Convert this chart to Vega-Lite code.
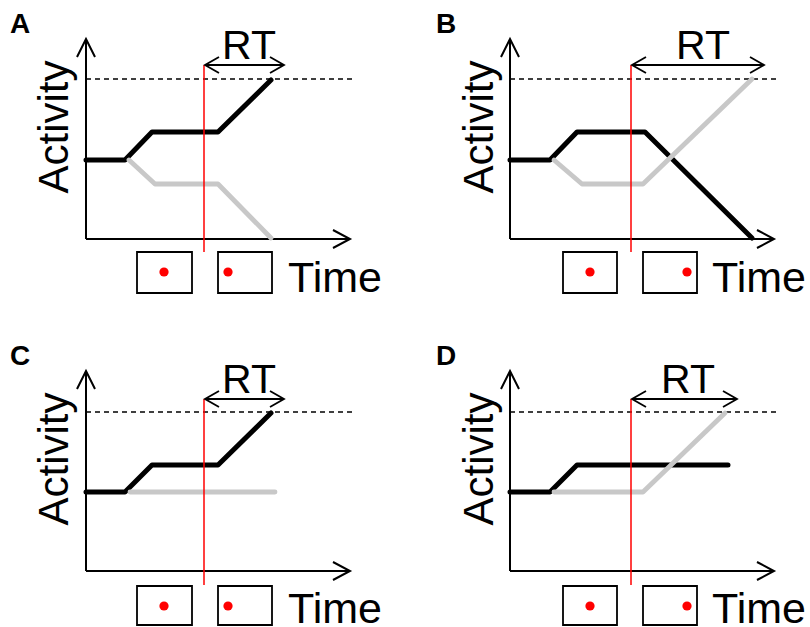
{
  "$schema": "https://vega.github.io/schema/vega-lite/v6.json",
  "padding": 0,
  "bounds": "flush",
  "background": "white",
  "config": {"view": {"stroke": null}, "font": "Liberation Sans"},
  "data": {"values": [
    {"p":"A","k":"axis","g":"yA","o":0,"t":0,"a":0},{"p":"A","k":"axis","g":"yA","o":1,"t":0,"a":200},
    {"p":"A","k":"axis","g":"yaA","o":0,"t":-9,"a":182},{"p":"A","k":"axis","g":"yaA","o":1,"t":0,"a":200},{"p":"A","k":"axis","g":"yaA","o":2,"t":9,"a":182},
    {"p":"A","k":"axis","g":"xA","o":0,"t":0,"a":0},{"p":"A","k":"axis","g":"xA","o":1,"t":264,"a":0},
    {"p":"A","k":"axis","g":"xaA","o":0,"t":247,"a":9},{"p":"A","k":"axis","g":"xaA","o":1,"t":264,"a":0},{"p":"A","k":"axis","g":"xaA","o":2,"t":247,"a":-9},
    {"p":"A","k":"rt","g":"rA","o":0,"t":119,"a":174},{"p":"A","k":"rt","g":"rA","o":1,"t":198,"a":174},
    {"p":"A","k":"rt","g":"rlA","o":0,"t":133,"a":182},{"p":"A","k":"rt","g":"rlA","o":1,"t":119,"a":174},{"p":"A","k":"rt","g":"rlA","o":2,"t":133,"a":166},
    {"p":"A","k":"rt","g":"rrA","o":0,"t":184,"a":182},{"p":"A","k":"rt","g":"rrA","o":1,"t":198,"a":174},{"p":"A","k":"rt","g":"rrA","o":2,"t":184,"a":166},
    {"p":"A","k":"black","g":"bA","o":0,"t":0,"a":79},{"p":"A","k":"black","g":"bA","o":1,"t":39,"a":79},{"p":"A","k":"black","g":"bA","o":2,"t":66,"a":107},{"p":"A","k":"black","g":"bA","o":3,"t":132,"a":107},{"p":"A","k":"black","g":"bA","o":4,"t":185,"a":159},
    {"p":"A","k":"gray","g":"gA","o":0,"t":43,"a":79},{"p":"A","k":"gray","g":"gA","o":1,"t":69,"a":55},{"p":"A","k":"gray","g":"gA","o":2,"t":132,"a":55},{"p":"A","k":"gray","g":"gA","o":3,"t":185,"a":1},
    {"p":"A","k":"th","t":0,"t2":266,"a":160},
    {"p":"A","k":"red","t":118,"a":-13,"a2":174},
    {"p":"A","k":"box","t":51,"t2":106,"a":-13,"a2":-54},{"p":"A","k":"box","t":132,"t2":186,"a":-13,"a2":-54},
    {"p":"A","k":"dot","t":78,"a":-33},{"p":"A","k":"dot","t":142,"a":-33},
    {"p":"A","k":"rtlabel","txt":"RT","t":163,"a":180},
    {"p":"A","k":"time","txt":"Time","t":202,"a":-53},
    {"p":"A","k":"act","txt":"Activity","t":-18,"a":112},
    {"p":"A","k":"lab","txt":"A","t":-76,"a":206},

    {"p":"B","k":"axis","g":"yB","o":0,"t":0,"a":0},{"p":"B","k":"axis","g":"yB","o":1,"t":0,"a":200},
    {"p":"B","k":"axis","g":"yaB","o":0,"t":-9,"a":182},{"p":"B","k":"axis","g":"yaB","o":1,"t":0,"a":200},{"p":"B","k":"axis","g":"yaB","o":2,"t":9,"a":182},
    {"p":"B","k":"axis","g":"xB","o":0,"t":0,"a":0},{"p":"B","k":"axis","g":"xB","o":1,"t":264,"a":0},
    {"p":"B","k":"axis","g":"xaB","o":0,"t":247,"a":9},{"p":"B","k":"axis","g":"xaB","o":1,"t":264,"a":0},{"p":"B","k":"axis","g":"xaB","o":2,"t":247,"a":-9},
    {"p":"B","k":"rt","g":"rB","o":0,"t":122,"a":174},{"p":"B","k":"rt","g":"rB","o":1,"t":254,"a":174},
    {"p":"B","k":"rt","g":"rlB","o":0,"t":136,"a":182},{"p":"B","k":"rt","g":"rlB","o":1,"t":122,"a":174},{"p":"B","k":"rt","g":"rlB","o":2,"t":136,"a":166},
    {"p":"B","k":"rt","g":"rrB","o":0,"t":240,"a":182},{"p":"B","k":"rt","g":"rrB","o":1,"t":254,"a":174},{"p":"B","k":"rt","g":"rrB","o":2,"t":240,"a":166},
    {"p":"B","k":"black","g":"bB","o":0,"t":0,"a":79},{"p":"B","k":"black","g":"bB","o":1,"t":40,"a":79},{"p":"B","k":"black","g":"bB","o":2,"t":67,"a":107},{"p":"B","k":"black","g":"bB","o":3,"t":135,"a":107},{"p":"B","k":"black","g":"bB","o":4,"t":242,"a":1},
    {"p":"B","k":"gray","g":"gB","o":0,"t":44,"a":79},{"p":"B","k":"gray","g":"gB","o":1,"t":72,"a":55},{"p":"B","k":"gray","g":"gB","o":2,"t":133,"a":55},{"p":"B","k":"gray","g":"gB","o":3,"t":242,"a":160},
    {"p":"B","k":"th","t":0,"t2":267,"a":160},
    {"p":"B","k":"red","t":121,"a":-13,"a2":174},
    {"p":"B","k":"box","t":53,"t2":107,"a":-13,"a2":-54},{"p":"B","k":"box","t":133,"t2":187,"a":-13,"a2":-54},
    {"p":"B","k":"dot","t":80,"a":-33},{"p":"B","k":"dot","t":177,"a":-33},
    {"p":"B","k":"rtlabel","txt":"RT","t":193,"a":180},
    {"p":"B","k":"time","txt":"Time","t":202,"a":-53},
    {"p":"B","k":"act","txt":"Activity","t":-17,"a":112},
    {"p":"B","k":"lab","txt":"B","t":-74,"a":206},

    {"p":"C","k":"axis","g":"yC","o":0,"t":0,"a":0},{"p":"C","k":"axis","g":"yC","o":1,"t":0,"a":200},
    {"p":"C","k":"axis","g":"yaC","o":0,"t":-9,"a":182},{"p":"C","k":"axis","g":"yaC","o":1,"t":0,"a":200},{"p":"C","k":"axis","g":"yaC","o":2,"t":9,"a":182},
    {"p":"C","k":"axis","g":"xC","o":0,"t":0,"a":0},{"p":"C","k":"axis","g":"xC","o":1,"t":264,"a":0},
    {"p":"C","k":"axis","g":"xaC","o":0,"t":247,"a":9},{"p":"C","k":"axis","g":"xaC","o":1,"t":264,"a":0},{"p":"C","k":"axis","g":"xaC","o":2,"t":247,"a":-9},
    {"p":"C","k":"rt","g":"rC","o":0,"t":119,"a":172},{"p":"C","k":"rt","g":"rC","o":1,"t":198,"a":172},
    {"p":"C","k":"rt","g":"rlC","o":0,"t":133,"a":180},{"p":"C","k":"rt","g":"rlC","o":1,"t":119,"a":172},{"p":"C","k":"rt","g":"rlC","o":2,"t":133,"a":164},
    {"p":"C","k":"rt","g":"rrC","o":0,"t":184,"a":180},{"p":"C","k":"rt","g":"rrC","o":1,"t":198,"a":172},{"p":"C","k":"rt","g":"rrC","o":2,"t":184,"a":164},
    {"p":"C","k":"black","g":"bC","o":0,"t":0,"a":79},{"p":"C","k":"black","g":"bC","o":1,"t":39,"a":79},{"p":"C","k":"black","g":"bC","o":2,"t":66,"a":106},{"p":"C","k":"black","g":"bC","o":3,"t":132,"a":106},{"p":"C","k":"black","g":"bC","o":4,"t":185,"a":158},
    {"p":"C","k":"gray","g":"gC","o":0,"t":44,"a":79},{"p":"C","k":"gray","g":"gC","o":1,"t":189,"a":79},
    {"p":"C","k":"th","t":0,"t2":266,"a":159},
    {"p":"C","k":"red","t":118,"a":-14,"a2":172},
    {"p":"C","k":"box","t":51,"t2":106,"a":-15,"a2":-54},{"p":"C","k":"box","t":132,"t2":186,"a":-15,"a2":-54},
    {"p":"C","k":"dot","t":78,"a":-35},{"p":"C","k":"dot","t":142,"a":-35},
    {"p":"C","k":"rtlabel","txt":"RT","t":163,"a":178},
    {"p":"C","k":"time","txt":"Time","t":202,"a":-52},
    {"p":"C","k":"act","txt":"Activity","t":-18,"a":112},
    {"p":"C","k":"lab","txt":"C","t":-76,"a":206},

    {"p":"D","k":"axis","g":"yD","o":0,"t":0,"a":0},{"p":"D","k":"axis","g":"yD","o":1,"t":0,"a":200},
    {"p":"D","k":"axis","g":"yaD","o":0,"t":-9,"a":182},{"p":"D","k":"axis","g":"yaD","o":1,"t":0,"a":200},{"p":"D","k":"axis","g":"yaD","o":2,"t":9,"a":182},
    {"p":"D","k":"axis","g":"xD","o":0,"t":0,"a":0},{"p":"D","k":"axis","g":"xD","o":1,"t":264,"a":0},
    {"p":"D","k":"axis","g":"xaD","o":0,"t":247,"a":9},{"p":"D","k":"axis","g":"xaD","o":1,"t":264,"a":0},{"p":"D","k":"axis","g":"xaD","o":2,"t":247,"a":-9},
    {"p":"D","k":"rt","g":"rD","o":0,"t":122,"a":172},{"p":"D","k":"rt","g":"rD","o":1,"t":227,"a":172},
    {"p":"D","k":"rt","g":"rlD","o":0,"t":136,"a":180},{"p":"D","k":"rt","g":"rlD","o":1,"t":122,"a":172},{"p":"D","k":"rt","g":"rlD","o":2,"t":136,"a":164},
    {"p":"D","k":"rt","g":"rrD","o":0,"t":213,"a":180},{"p":"D","k":"rt","g":"rrD","o":1,"t":227,"a":172},{"p":"D","k":"rt","g":"rrD","o":2,"t":213,"a":164},
    {"p":"D","k":"black","g":"bD","o":0,"t":0,"a":79},{"p":"D","k":"black","g":"bD","o":1,"t":40,"a":79},{"p":"D","k":"black","g":"bD","o":2,"t":67,"a":106},{"p":"D","k":"black","g":"bD","o":3,"t":218,"a":106},
    {"p":"D","k":"gray","g":"gD","o":0,"t":44,"a":79},{"p":"D","k":"gray","g":"gD","o":1,"t":133,"a":79},{"p":"D","k":"gray","g":"gD","o":2,"t":215,"a":158},
    {"p":"D","k":"th","t":0,"t2":267,"a":159},
    {"p":"D","k":"red","t":121,"a":-14,"a2":172},
    {"p":"D","k":"box","t":53,"t2":107,"a":-15,"a2":-54},{"p":"D","k":"box","t":133,"t2":187,"a":-15,"a2":-54},
    {"p":"D","k":"dot","t":80,"a":-35},{"p":"D","k":"dot","t":177,"a":-35},
    {"p":"D","k":"rtlabel","txt":"RT","t":178,"a":178},
    {"p":"D","k":"time","txt":"Time","t":202,"a":-52},
    {"p":"D","k":"act","txt":"Activity","t":-17,"a":112},
    {"p":"D","k":"lab","txt":"D","t":-74,"a":206}
  ]},
  "columns": 2,
  "spacing": {"row": 37, "column": 44},
  "concat": [
      {"width": 380, "height": 295, "transform": [{"filter": "datum.p === 'A'"}],
       "encoding": {"x": {"field": "t", "type": "quantitative", "scale": {"domain": [-86, 294], "nice": false, "zero": false}, "axis": null}, "y": {"field": "a", "type": "quantitative", "scale": {"domain": [-56, 239], "nice": false, "zero": false}, "axis": null}},
       "layer": [
        {"transform": [{"filter": "datum.k === 'th'"}], "mark": {"type": "rule", "color": "black", "strokeWidth": 1.3, "strokeDash": [5, 4]}, "encoding": {"x2": {"field": "t2"}}},
        {"transform": [{"filter": "datum.k === 'axis'"}], "mark": {"type": "line", "color": "black", "strokeWidth": 2}, "encoding": {"detail": {"field": "g", "type": "nominal"}, "order": {"field": "o", "type": "quantitative"}}},
        {"transform": [{"filter": "datum.k === 'black'"}], "mark": {"type": "line", "color": "black", "strokeWidth": 5, "strokeCap": "round", "strokeJoin": "round"}, "encoding": {"detail": {"field": "g", "type": "nominal"}, "order": {"field": "o", "type": "quantitative"}}},
        {"transform": [{"filter": "datum.k === 'gray'"}], "mark": {"type": "line", "color": "#c8c8c8", "strokeWidth": 4.8, "strokeCap": "round", "strokeJoin": "round"}, "encoding": {"detail": {"field": "g", "type": "nominal"}, "order": {"field": "o", "type": "quantitative"}}},
        {"transform": [{"filter": "datum.k === 'red'"}], "mark": {"type": "rule", "color": "#ff0000", "strokeWidth": 1.5}, "encoding": {"y2": {"field": "a2"}}},
        {"transform": [{"filter": "datum.k === 'rt'"}], "mark": {"type": "line", "color": "black", "strokeWidth": 1.8}, "encoding": {"detail": {"field": "g", "type": "nominal"}, "order": {"field": "o", "type": "quantitative"}}},
        {"transform": [{"filter": "datum.k === 'box'"}], "mark": {"type": "rect", "fill": "white", "stroke": "black", "strokeWidth": 1.8}, "encoding": {"x2": {"field": "t2"}, "y2": {"field": "a2"}}},
        {"transform": [{"filter": "datum.k === 'dot'"}], "mark": {"type": "circle", "color": "#ff0000", "size": 85, "opacity": 1}},
        {"transform": [{"filter": "datum.k === 'rtlabel'"}], "mark": {"type": "text", "font": "Liberation Sans", "fontSize": 41, "align": "center", "baseline": "alphabetic", "color": "black"}, "encoding": {"text": {"field": "txt"}}},
        {"transform": [{"filter": "datum.k === 'time'"}], "mark": {"type": "text", "font": "Liberation Sans", "fontSize": 43, "align": "left", "baseline": "alphabetic", "color": "black"}, "encoding": {"text": {"field": "txt"}}},
        {"transform": [{"filter": "datum.k === 'act'"}], "mark": {"type": "text", "font": "Liberation Sans", "fontSize": 42, "align": "center", "baseline": "alphabetic", "angle": 270, "color": "black"}, "encoding": {"text": {"field": "txt"}}},
        {"transform": [{"filter": "datum.k === 'lab'"}], "mark": {"type": "text", "font": "Liberation Sans", "fontSize": 28, "fontWeight": "bold", "align": "left", "baseline": "alphabetic", "color": "black"}, "encoding": {"text": {"field": "txt"}}}
       ]},
      {"width": 380, "height": 295, "transform": [{"filter": "datum.p === 'B'"}],
       "encoding": {"x": {"field": "t", "type": "quantitative", "scale": {"domain": [-86, 294], "nice": false, "zero": false}, "axis": null}, "y": {"field": "a", "type": "quantitative", "scale": {"domain": [-56, 239], "nice": false, "zero": false}, "axis": null}},
       "layer": [
        {"transform": [{"filter": "datum.k === 'th'"}], "mark": {"type": "rule", "color": "black", "strokeWidth": 1.3, "strokeDash": [5, 4]}, "encoding": {"x2": {"field": "t2"}}},
        {"transform": [{"filter": "datum.k === 'axis'"}], "mark": {"type": "line", "color": "black", "strokeWidth": 2}, "encoding": {"detail": {"field": "g", "type": "nominal"}, "order": {"field": "o", "type": "quantitative"}}},
        {"transform": [{"filter": "datum.k === 'black'"}], "mark": {"type": "line", "color": "black", "strokeWidth": 5, "strokeCap": "round", "strokeJoin": "round"}, "encoding": {"detail": {"field": "g", "type": "nominal"}, "order": {"field": "o", "type": "quantitative"}}},
        {"transform": [{"filter": "datum.k === 'gray'"}], "mark": {"type": "line", "color": "#c8c8c8", "strokeWidth": 4.8, "strokeCap": "round", "strokeJoin": "round"}, "encoding": {"detail": {"field": "g", "type": "nominal"}, "order": {"field": "o", "type": "quantitative"}}},
        {"transform": [{"filter": "datum.k === 'red'"}], "mark": {"type": "rule", "color": "#ff0000", "strokeWidth": 1.5}, "encoding": {"y2": {"field": "a2"}}},
        {"transform": [{"filter": "datum.k === 'rt'"}], "mark": {"type": "line", "color": "black", "strokeWidth": 1.8}, "encoding": {"detail": {"field": "g", "type": "nominal"}, "order": {"field": "o", "type": "quantitative"}}},
        {"transform": [{"filter": "datum.k === 'box'"}], "mark": {"type": "rect", "fill": "white", "stroke": "black", "strokeWidth": 1.8}, "encoding": {"x2": {"field": "t2"}, "y2": {"field": "a2"}}},
        {"transform": [{"filter": "datum.k === 'dot'"}], "mark": {"type": "circle", "color": "#ff0000", "size": 85, "opacity": 1}},
        {"transform": [{"filter": "datum.k === 'rtlabel'"}], "mark": {"type": "text", "font": "Liberation Sans", "fontSize": 41, "align": "center", "baseline": "alphabetic", "color": "black"}, "encoding": {"text": {"field": "txt"}}},
        {"transform": [{"filter": "datum.k === 'time'"}], "mark": {"type": "text", "font": "Liberation Sans", "fontSize": 43, "align": "left", "baseline": "alphabetic", "color": "black"}, "encoding": {"text": {"field": "txt"}}},
        {"transform": [{"filter": "datum.k === 'act'"}], "mark": {"type": "text", "font": "Liberation Sans", "fontSize": 42, "align": "center", "baseline": "alphabetic", "angle": 270, "color": "black"}, "encoding": {"text": {"field": "txt"}}},
        {"transform": [{"filter": "datum.k === 'lab'"}], "mark": {"type": "text", "font": "Liberation Sans", "fontSize": 28, "fontWeight": "bold", "align": "left", "baseline": "alphabetic", "color": "black"}, "encoding": {"text": {"field": "txt"}}}
       ]},
      {"width": 380, "height": 295, "transform": [{"filter": "datum.p === 'C'"}],
       "encoding": {"x": {"field": "t", "type": "quantitative", "scale": {"domain": [-86, 294], "nice": false, "zero": false}, "axis": null}, "y": {"field": "a", "type": "quantitative", "scale": {"domain": [-56, 239], "nice": false, "zero": false}, "axis": null}},
       "layer": [
        {"transform": [{"filter": "datum.k === 'th'"}], "mark": {"type": "rule", "color": "black", "strokeWidth": 1.3, "strokeDash": [5, 4]}, "encoding": {"x2": {"field": "t2"}}},
        {"transform": [{"filter": "datum.k === 'axis'"}], "mark": {"type": "line", "color": "black", "strokeWidth": 2}, "encoding": {"detail": {"field": "g", "type": "nominal"}, "order": {"field": "o", "type": "quantitative"}}},
        {"transform": [{"filter": "datum.k === 'black'"}], "mark": {"type": "line", "color": "black", "strokeWidth": 5, "strokeCap": "round", "strokeJoin": "round"}, "encoding": {"detail": {"field": "g", "type": "nominal"}, "order": {"field": "o", "type": "quantitative"}}},
        {"transform": [{"filter": "datum.k === 'gray'"}], "mark": {"type": "line", "color": "#c8c8c8", "strokeWidth": 4.8, "strokeCap": "round", "strokeJoin": "round"}, "encoding": {"detail": {"field": "g", "type": "nominal"}, "order": {"field": "o", "type": "quantitative"}}},
        {"transform": [{"filter": "datum.k === 'red'"}], "mark": {"type": "rule", "color": "#ff0000", "strokeWidth": 1.5}, "encoding": {"y2": {"field": "a2"}}},
        {"transform": [{"filter": "datum.k === 'rt'"}], "mark": {"type": "line", "color": "black", "strokeWidth": 1.8}, "encoding": {"detail": {"field": "g", "type": "nominal"}, "order": {"field": "o", "type": "quantitative"}}},
        {"transform": [{"filter": "datum.k === 'box'"}], "mark": {"type": "rect", "fill": "white", "stroke": "black", "strokeWidth": 1.8}, "encoding": {"x2": {"field": "t2"}, "y2": {"field": "a2"}}},
        {"transform": [{"filter": "datum.k === 'dot'"}], "mark": {"type": "circle", "color": "#ff0000", "size": 85, "opacity": 1}},
        {"transform": [{"filter": "datum.k === 'rtlabel'"}], "mark": {"type": "text", "font": "Liberation Sans", "fontSize": 41, "align": "center", "baseline": "alphabetic", "color": "black"}, "encoding": {"text": {"field": "txt"}}},
        {"transform": [{"filter": "datum.k === 'time'"}], "mark": {"type": "text", "font": "Liberation Sans", "fontSize": 43, "align": "left", "baseline": "alphabetic", "color": "black"}, "encoding": {"text": {"field": "txt"}}},
        {"transform": [{"filter": "datum.k === 'act'"}], "mark": {"type": "text", "font": "Liberation Sans", "fontSize": 42, "align": "center", "baseline": "alphabetic", "angle": 270, "color": "black"}, "encoding": {"text": {"field": "txt"}}},
        {"transform": [{"filter": "datum.k === 'lab'"}], "mark": {"type": "text", "font": "Liberation Sans", "fontSize": 28, "fontWeight": "bold", "align": "left", "baseline": "alphabetic", "color": "black"}, "encoding": {"text": {"field": "txt"}}}
       ]},
      {"width": 380, "height": 295, "transform": [{"filter": "datum.p === 'D'"}],
       "encoding": {"x": {"field": "t", "type": "quantitative", "scale": {"domain": [-86, 294], "nice": false, "zero": false}, "axis": null}, "y": {"field": "a", "type": "quantitative", "scale": {"domain": [-56, 239], "nice": false, "zero": false}, "axis": null}},
       "layer": [
        {"transform": [{"filter": "datum.k === 'th'"}], "mark": {"type": "rule", "color": "black", "strokeWidth": 1.3, "strokeDash": [5, 4]}, "encoding": {"x2": {"field": "t2"}}},
        {"transform": [{"filter": "datum.k === 'axis'"}], "mark": {"type": "line", "color": "black", "strokeWidth": 2}, "encoding": {"detail": {"field": "g", "type": "nominal"}, "order": {"field": "o", "type": "quantitative"}}},
        {"transform": [{"filter": "datum.k === 'black'"}], "mark": {"type": "line", "color": "black", "strokeWidth": 5, "strokeCap": "round", "strokeJoin": "round"}, "encoding": {"detail": {"field": "g", "type": "nominal"}, "order": {"field": "o", "type": "quantitative"}}},
        {"transform": [{"filter": "datum.k === 'gray'"}], "mark": {"type": "line", "color": "#c8c8c8", "strokeWidth": 4.8, "strokeCap": "round", "strokeJoin": "round"}, "encoding": {"detail": {"field": "g", "type": "nominal"}, "order": {"field": "o", "type": "quantitative"}}},
        {"transform": [{"filter": "datum.k === 'red'"}], "mark": {"type": "rule", "color": "#ff0000", "strokeWidth": 1.5}, "encoding": {"y2": {"field": "a2"}}},
        {"transform": [{"filter": "datum.k === 'rt'"}], "mark": {"type": "line", "color": "black", "strokeWidth": 1.8}, "encoding": {"detail": {"field": "g", "type": "nominal"}, "order": {"field": "o", "type": "quantitative"}}},
        {"transform": [{"filter": "datum.k === 'box'"}], "mark": {"type": "rect", "fill": "white", "stroke": "black", "strokeWidth": 1.8}, "encoding": {"x2": {"field": "t2"}, "y2": {"field": "a2"}}},
        {"transform": [{"filter": "datum.k === 'dot'"}], "mark": {"type": "circle", "color": "#ff0000", "size": 85, "opacity": 1}},
        {"transform": [{"filter": "datum.k === 'rtlabel'"}], "mark": {"type": "text", "font": "Liberation Sans", "fontSize": 41, "align": "center", "baseline": "alphabetic", "color": "black"}, "encoding": {"text": {"field": "txt"}}},
        {"transform": [{"filter": "datum.k === 'time'"}], "mark": {"type": "text", "font": "Liberation Sans", "fontSize": 43, "align": "left", "baseline": "alphabetic", "color": "black"}, "encoding": {"text": {"field": "txt"}}},
        {"transform": [{"filter": "datum.k === 'act'"}], "mark": {"type": "text", "font": "Liberation Sans", "fontSize": 42, "align": "center", "baseline": "alphabetic", "angle": 270, "color": "black"}, "encoding": {"text": {"field": "txt"}}},
        {"transform": [{"filter": "datum.k === 'lab'"}], "mark": {"type": "text", "font": "Liberation Sans", "fontSize": 28, "fontWeight": "bold", "align": "left", "baseline": "alphabetic", "color": "black"}, "encoding": {"text": {"field": "txt"}}}
       ]}
  ]
}
